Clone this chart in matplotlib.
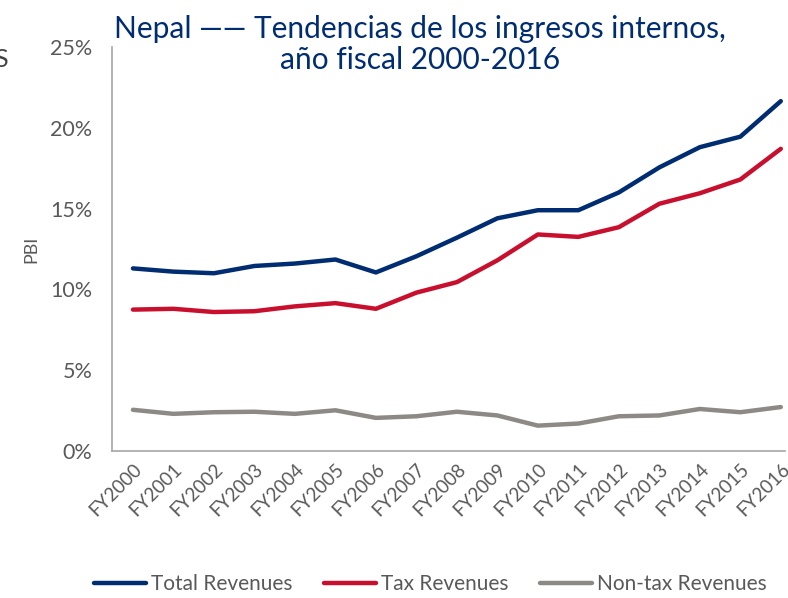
import matplotlib
matplotlib.use("Agg")
from matplotlib import pyplot as plt
from matplotlib.ticker import FuncFormatter

# FY labels and revenue shares (% of PBI)
years = ['FY2000', 'FY2001', 'FY2002', 'FY2003', 'FY2004', 'FY2005', 'FY2006', 'FY2007', 'FY2008',
         'FY2009', 'FY2010', 'FY2011', 'FY2012', 'FY2013', 'FY2014', 'FY2015', 'FY2016']
total_rev = [11.3, 11.1, 11.0, 11.45, 11.6, 11.85, 11.05, 12.05, 13.2, 14.4, 14.9, 14.9, 16.0, 17.55, 18.8, 19.45, 21.65]
tax_rev = [8.75, 8.8, 8.6, 8.65, 8.95, 9.15, 8.8, 9.8, 10.45, 11.8, 13.4, 13.25, 13.85, 15.3, 15.95, 16.8, 18.7]
nontax_rev = [2.55, 2.3, 2.4, 2.43, 2.3, 2.52, 2.05, 2.15, 2.43, 2.2, 1.57, 1.7, 2.15, 2.2, 2.6, 2.4, 2.72]

navy = '#002D72'
red = '#C8102E'
grey = '#8D8985'
txt = '#595959'

plt.rcParams['font.family'] = ['Lato', 'DejaVu Sans']

fig = plt.figure(figsize=(7.88, 5.98), dpi=100)
ax = fig.add_axes([0.142, 0.2458, 0.854, 0.6756])

x = range(len(years))
ax.plot(x, total_rev, color=navy, lw=3.2, label='Total Revenues', solid_capstyle='round')
ax.plot(x, tax_rev, color=red, lw=3.2, label='Tax Revenues', solid_capstyle='round')
ax.plot(x, nontax_rev, color=grey, lw=3.2, label='Non-tax Revenues', solid_capstyle='round')

ax.set_xlim(-0.52, 16.1)
ax.set_ylim(0, 25)
ax.set_yticks([0, 5, 10, 15, 20, 25])
ax.yaxis.set_major_formatter(FuncFormatter(lambda v, p: '%d%%' % v))
ax.set_xticks(list(x))
ax.set_xticklabels(years, rotation=45, ha='right', rotation_mode='anchor')
ax.tick_params(axis='y', length=0, labelsize=15.5, labelcolor=txt, pad=14)
ax.tick_params(axis='x', length=0, labelsize=13.5, labelcolor=txt, pad=7)
for s in ['top', 'right']:
    ax.spines[s].set_visible(False)
for s in ['left', 'bottom']:
    ax.spines[s].set_color('#A6A6A6')
    ax.spines[s].set_linewidth(1.2)

ax.set_ylabel('PBI', fontsize=13, color=txt, labelpad=8)

fig.text(0.533, 0.975, 'Nepal \u2014\u2014 Tendencias de los ingresos internos,\naño fiscal 2000-2016',
         ha='center', va='top', fontsize=21.5, color=navy, linespacing=1.15)

# cut-off glyph at the left edge
fig.text(-0.008, 0.9, 'S', ha='left', va='center', fontsize=18, color='#444444')

fig.legend(loc='lower center', bbox_to_anchor=(0.546, -0.025), ncol=3, frameon=False,
           fontsize=15, handlelength=2.5, handletextpad=0.25, columnspacing=1.5,
           labelcolor=txt)

fig.savefig('out.png', dpi=100)
